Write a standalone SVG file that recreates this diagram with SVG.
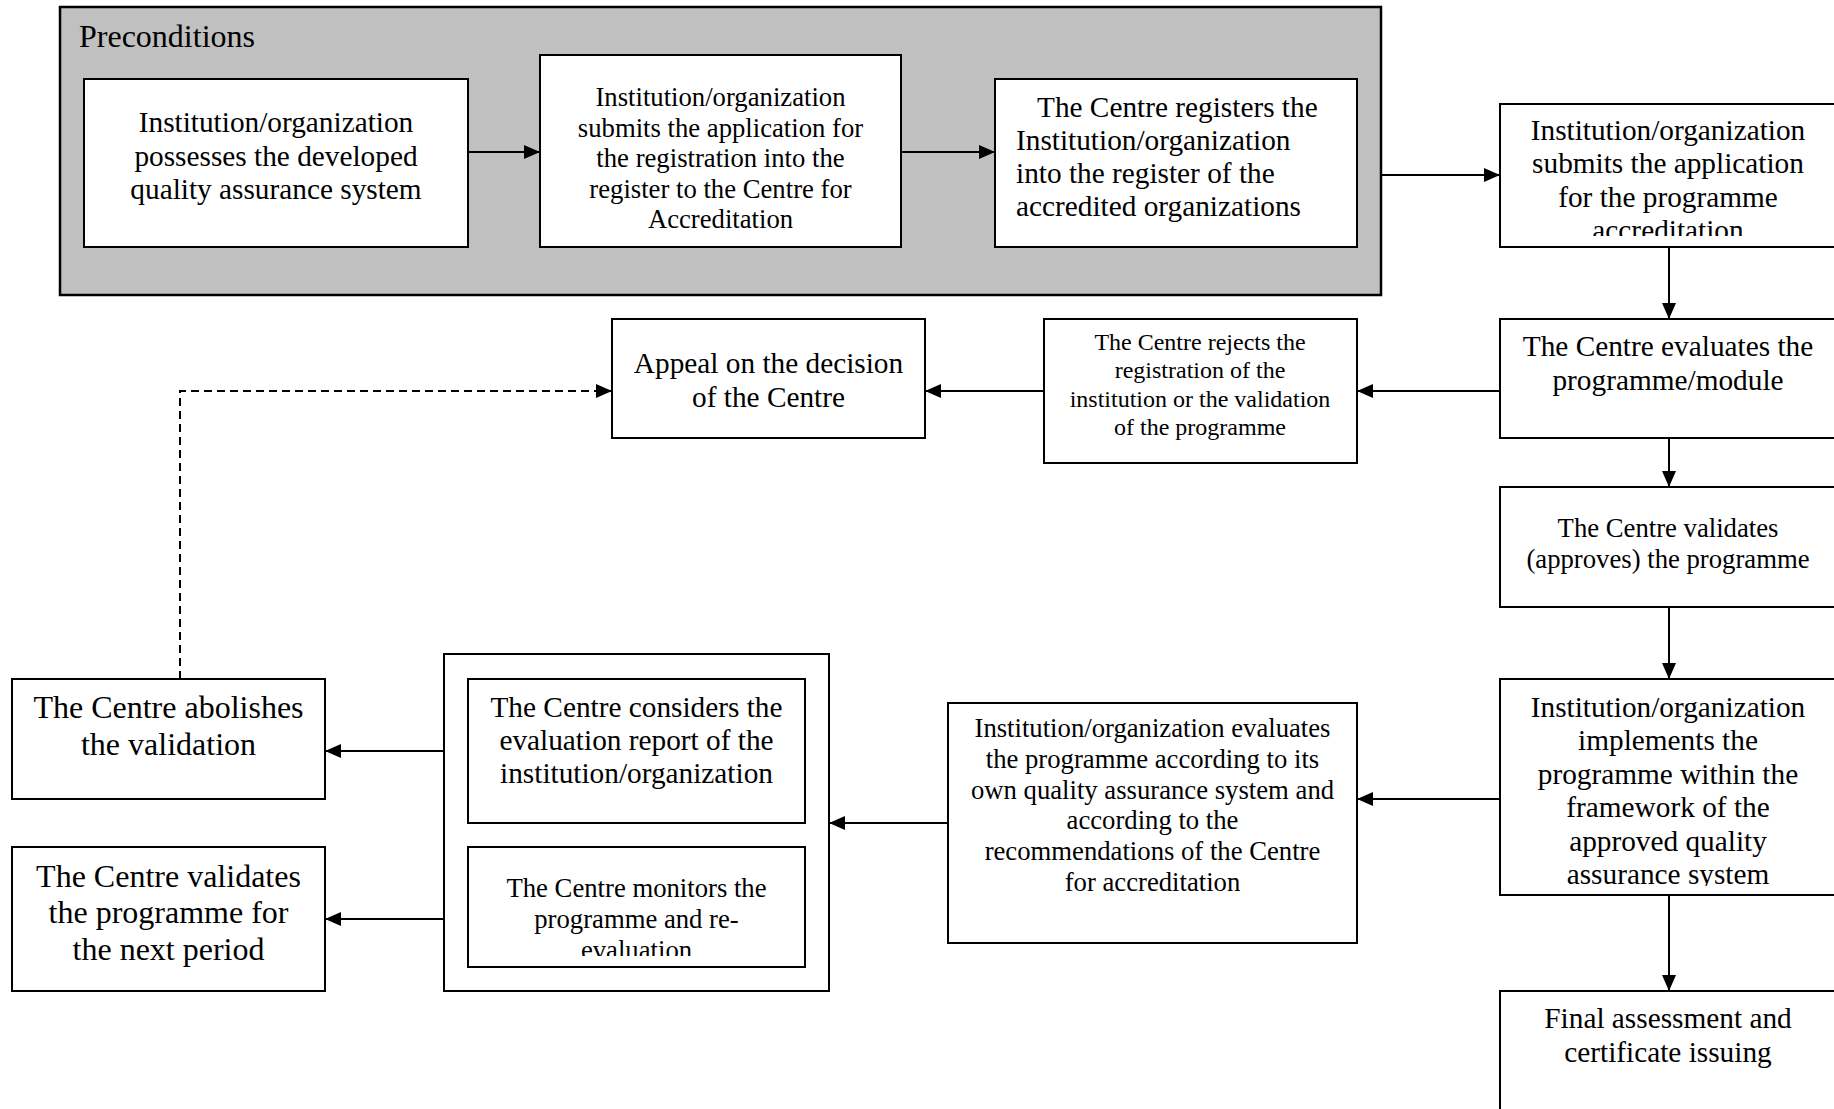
<svg xmlns="http://www.w3.org/2000/svg" width="1834" height="1109" viewBox="0 0 1834 1109">
<style>
.bg{fill:#ffffff}
.box{fill:#ffffff;stroke:#000;stroke-width:2}
.grey{fill:#c0c0c0;stroke:#000;stroke-width:2.5}
.t{font-family:"Liberation Serif","Times New Roman",serif;fill:#000;text-anchor:middle}
.l{text-anchor:start}
.f32{font-size:32px}
.f29{font-size:29.3px}
.f27{font-size:26.7px}
.f24{font-size:24px}
.c{fill:none;stroke:#000;stroke-width:2}
.d{stroke-dasharray:8 5}
</style>
<defs>
<marker id="ah" markerUnits="userSpaceOnUse" markerWidth="16" markerHeight="14" refX="16" refY="7" orient="auto">
<path d="M0,0 L16,7 L0,14 z" fill="#000" stroke="none"/>
</marker>
<clipPath id="clip4"><rect x="1500" y="104" width="340" height="132"/></clipPath>
<clipPath id="clip9"><rect x="1500" y="679" width="340" height="207"/></clipPath>
<clipPath id="clipB"><rect x="468" y="847" width="337" height="109"/></clipPath>
</defs>
<rect class="bg" x="0" y="0" width="1834" height="1109"/>

<g id="preconditions">
<rect class="grey" x="60" y="7" width="1321" height="288"/>
<text class="t l f32" x="79" y="47">Preconditions</text>
</g>

<g id="n1">
<rect class="box" x="84" y="79" width="384" height="168"/>
<text class="t f29" x="276"><tspan x="276" y="132">Institution/organization</tspan><tspan x="276" y="166">possesses the developed</tspan><tspan x="276" y="199">quality assurance system</tspan></text>
</g>

<g id="n2">
<rect class="box" x="540" y="55" width="361" height="192"/>
<text class="t f27"><tspan x="720.5" y="106">Institution/organization</tspan><tspan x="720.5" y="137">submits the application for</tspan><tspan x="720.5" y="167">the registration into the</tspan><tspan x="720.5" y="198">register to the Centre for</tspan><tspan x="720.5" y="228">Accreditation</tspan></text>
</g>

<g id="n3">
<rect class="box" x="995" y="79" width="362" height="168"/>
<text class="t l f29"><tspan x="1037" y="117">The Centre registers the</tspan><tspan x="1016" y="150">Institution/organization</tspan><tspan x="1016" y="183">into the register of the</tspan><tspan x="1016" y="216">accredited organizations</tspan></text>
</g>

<g id="n4">
<rect class="box" x="1500" y="104" width="340" height="143"/>
<text class="t f29" clip-path="url(#clip4)"><tspan x="1668" y="140">Institution/organization</tspan><tspan x="1668" y="173">submits the application</tspan><tspan x="1668" y="207">for the programme</tspan><tspan x="1668" y="240">accreditation</tspan></text>
</g>

<g id="n5">
<rect class="box" x="1500" y="319" width="340" height="119"/>
<text class="t f29"><tspan x="1668" y="356">The Centre evaluates the</tspan><tspan x="1668" y="390">programme/module</tspan></text>
</g>

<g id="n6">
<rect class="box" x="1044" y="319" width="313" height="144"/>
<text class="t f24"><tspan x="1200" y="350">The Centre rejects the</tspan><tspan x="1200" y="378">registration of the</tspan><tspan x="1200" y="407">institution or the validation</tspan><tspan x="1200" y="435">of the programme</tspan></text>
</g>

<g id="n7">
<rect class="box" x="612" y="319" width="313" height="119"/>
<text class="t f29"><tspan x="768.5" y="373">Appeal on the decision</tspan><tspan x="768.5" y="407">of the Centre</tspan></text>
</g>

<g id="n8">
<rect class="box" x="1500" y="487" width="340" height="120"/>
<text class="t f27"><tspan x="1668" y="537">The Centre validates</tspan><tspan x="1668" y="568">(approves) the programme</tspan></text>
</g>

<g id="n9">
<rect class="box" x="1500" y="679" width="340" height="216"/>
<text class="t f29" clip-path="url(#clip9)"><tspan x="1668" y="717">Institution/organization</tspan><tspan x="1668" y="750">implements the</tspan><tspan x="1668" y="784">programme within the</tspan><tspan x="1668" y="817">framework of the</tspan><tspan x="1668" y="851">approved quality</tspan><tspan x="1668" y="884">assurance system</tspan></text>
</g>

<g id="n10">
<rect class="box" x="1500" y="991" width="340" height="130"/>
<text class="t f29"><tspan x="1668" y="1028">Final assessment and</tspan><tspan x="1668" y="1062">certificate issuing</tspan></text>
</g>

<g id="n11">
<rect class="box" x="948" y="703" width="409" height="240"/>
<text class="t f27"><tspan x="1152.5" y="737">Institution/organization evaluates</tspan><tspan x="1152.5" y="768">the programme according to its</tspan><tspan x="1152.5" y="799">own quality assurance system and</tspan><tspan x="1152.5" y="829">according to the</tspan><tspan x="1152.5" y="860">recommendations of the Centre</tspan><tspan x="1152.5" y="891">for accreditation</tspan></text>
</g>

<g id="n12">
<rect class="box" x="444" y="654" width="385" height="337"/>
</g>

<g id="n12a">
<rect class="box" x="468" y="679" width="337" height="144"/>
<text class="t f29"><tspan x="636.5" y="717">The Centre considers the</tspan><tspan x="636.5" y="750">evaluation report of the</tspan><tspan x="636.5" y="783">institution/organization</tspan></text>
</g>

<g id="n12b">
<rect class="box" x="468" y="847" width="337" height="120"/>
<text class="t f27" clip-path="url(#clipB)"><tspan x="636.5" y="897">The Centre monitors the</tspan><tspan x="636.5" y="928">programme and re-</tspan><tspan x="636.5" y="959">evaluation</tspan></text>
</g>

<g id="n13">
<rect class="box" x="12" y="679" width="313" height="120"/>
<text class="t f32"><tspan x="168.5" y="718">The Centre abolishes</tspan><tspan x="168.5" y="755">the validation</tspan></text>
</g>

<g id="n14">
<rect class="box" x="12" y="847" width="313" height="144"/>
<text class="t f32"><tspan x="168.5" y="887">The Centre validates</tspan><tspan x="168.5" y="923">the programme for</tspan><tspan x="168.5" y="960">the next period</tspan></text>
</g>

<g id="connectors">
<path class="c" d="M468,152 H540" marker-end="url(#ah)"/>
<path class="c" d="M901,152 H995" marker-end="url(#ah)"/>
<path class="c" d="M1381,175 H1500" marker-end="url(#ah)"/>
<path class="c" d="M1669,247 V319" marker-end="url(#ah)"/>
<path class="c" d="M1500,391 H1357" marker-end="url(#ah)"/>
<path class="c" d="M1044,391 H925" marker-end="url(#ah)"/>
<path class="c d" d="M180,679 V391 H612" marker-end="url(#ah)"/>
<path class="c" d="M1669,438 V487" marker-end="url(#ah)"/>
<path class="c" d="M1669,607 V679" marker-end="url(#ah)"/>
<path class="c" d="M1669,895 V991" marker-end="url(#ah)"/>
<path class="c" d="M1500,799 H1357" marker-end="url(#ah)"/>
<path class="c" d="M948,823 H829" marker-end="url(#ah)"/>
<path class="c" d="M444,751 H325" marker-end="url(#ah)"/>
<path class="c" d="M444,919 H325" marker-end="url(#ah)"/>
</g>
</svg>
